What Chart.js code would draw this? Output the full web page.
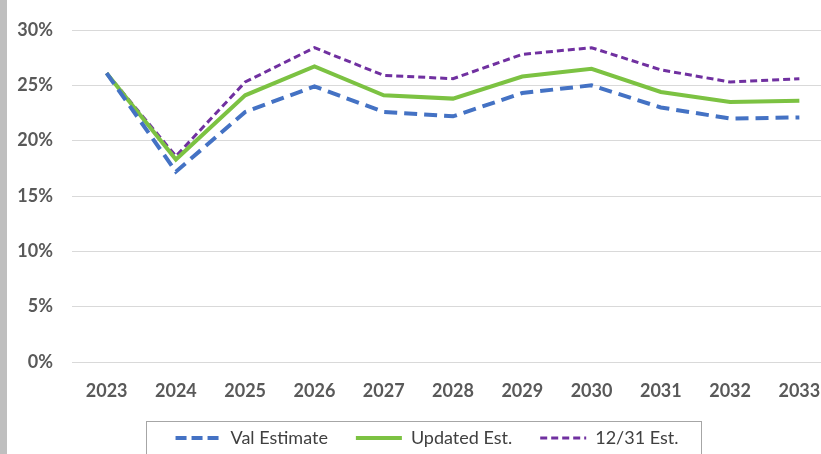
<!DOCTYPE html>
<html>
<head>
<meta charset="utf-8">
<script src="https://cdn.jsdelivr.net/npm/chart.js"></script>
<style>
    html, body { margin: 0; padding: 0; overflow: hidden; background: #fff; }
    #wrap { position: relative; width: 821px; height: 454px; overflow: hidden; }
    #strip { position: absolute; left: 0; top: 0; width: 7px; height: 454px; background: #bfbfbf; z-index: 2; }
    #chart { position: absolute; left: 0; top: 0; }
</style>
</head>
<body>
<div id="wrap">
    <div id="strip"></div>
    <canvas id="chart" width="840" height="476"></canvas>
</div>
<script>
const years = ["2023", "2024", "2025", "2026", "2027", "2028", "2029", "2030", "2031", "2032", "2033"];
const valEstimate = [26.1, 17.2, 22.6, 24.9, 22.6, 22.2, 24.3, 25.0, 23.0, 22.0, 22.1];
const updatedEst = [26.1, 18.3, 24.1, 26.7, 24.1, 23.8, 25.8, 26.5, 24.4, 23.5, 23.6];
const dec31Est = [26.1, 18.6, 25.3, 28.4, 25.9, 25.6, 27.8, 28.4, 26.4, 25.3, 25.6];
const yTicks = [0, 5, 10, 15, 20, 25, 30];

Chart.defaults.font.family = "Lato";

// moves the legend where the reference has it and draws the frame round it
const legendFrame = {
    id: "legendFrame",
    afterLayout(chart) {
        const lg = chart.legend;
        const pad = lg.options.labels.padding;
        const dx = 10;
        const dy = 438 - (lg.top + pad + 9);
        lg.left += dx;
        lg.right += dx;
        lg.top += dy;
        lg.bottom += dy;
    },
    afterDraw(chart) {
        const boxes = chart.legend.legendHitBoxes;
        const first = boxes[0];
        const last = boxes[boxes.length - 1];
        const x0 = Math.round(first.left - 30) + 0.5;
        const x1 = Math.round(last.left + last.width + 23) + 0.5;
        const ctx = chart.ctx;
        ctx.save();
        ctx.strokeStyle = "#a6a6a6";
        ctx.lineWidth = 1;
        ctx.strokeRect(x0, 421.5, x1 - x0, 80);
        ctx.restore();
    }
};

new Chart(document.querySelector("#chart"), {
    type: "line",
    data: {
        labels: years,
        datasets: [
            {
                label: "Val Estimate",
                data: valEstimate,
                borderColor: "#4472c4",
                backgroundColor: "#4472c4",
                borderWidth: 4,
                borderDash: [13, 7]
            },
            {
                label: "Updated Est.",
                data: updatedEst,
                borderColor: "#7cc242",
                backgroundColor: "#7cc242",
                borderWidth: 4
            },
            {
                label: "12/31 Est.",
                data: dec31Est,
                borderColor: "#7030a0",
                backgroundColor: "#7030a0",
                borderWidth: 3,
                borderDash: [7, 4]
            }
        ]
    },
    options: {
        responsive: false,
        animation: false,
        layout: { padding: { top: 30, right: 6, left: 0, bottom: 0 } },
        elements: {
            point: { radius: 0, hoverRadius: 0 },
            line: { tension: 0, borderCapStyle: "butt" }
        },
        plugins: {
            tooltip: { enabled: false },
            legend: {
                position: "bottom",
                labels: {
                    usePointStyle: true,
                    pointStyle: "line",
                    pointStyleWidth: 46,
                    padding: 28,
                    color: "#404040",
                    font: { size: 18 },
                    generateLabels: function (chart) {
                        const items = Chart.defaults.plugins.legend.labels.generateLabels(chart);
                        items.forEach((it, i) => {
                            const ds = chart.data.datasets[i];
                            it.lineDash = i == 0 ? [11, 5] : (ds.borderDash || []);
                            it.lineWidth = ds.borderWidth;
                            it.strokeStyle = ds.borderColor;
                        });
                        return items;
                    }
                }
            }
        },
        scales: {
            x: {
                offset: true,
                grid: { display: false, drawTicks: false },
                border: { display: false },
                ticks: {
                    padding: 18,
                    color: "#595959",
                    font: { size: 18, weight: "bold" }
                },
                afterFit: function (scale) { scale.height = 58; }
            },
            y: {
                min: 0,
                max: 30,
                afterBuildTicks: function (scale) {
                    scale.ticks = yTicks.map(v => ({ value: v }));
                },
                grid: { color: "#d9d9d9", lineWidth: 1, drawTicks: false },
                border: { display: false },
                ticks: {
                    padding: 19,
                    color: "#595959",
                    font: { size: 18, weight: "bold" },
                    callback: function (v) { return v + "%"; }
                },
                afterFit: function (scale) { scale.width = 72; }
            }
        }
    },
    plugins: [legendFrame]
});
</script>
</body>
</html>
